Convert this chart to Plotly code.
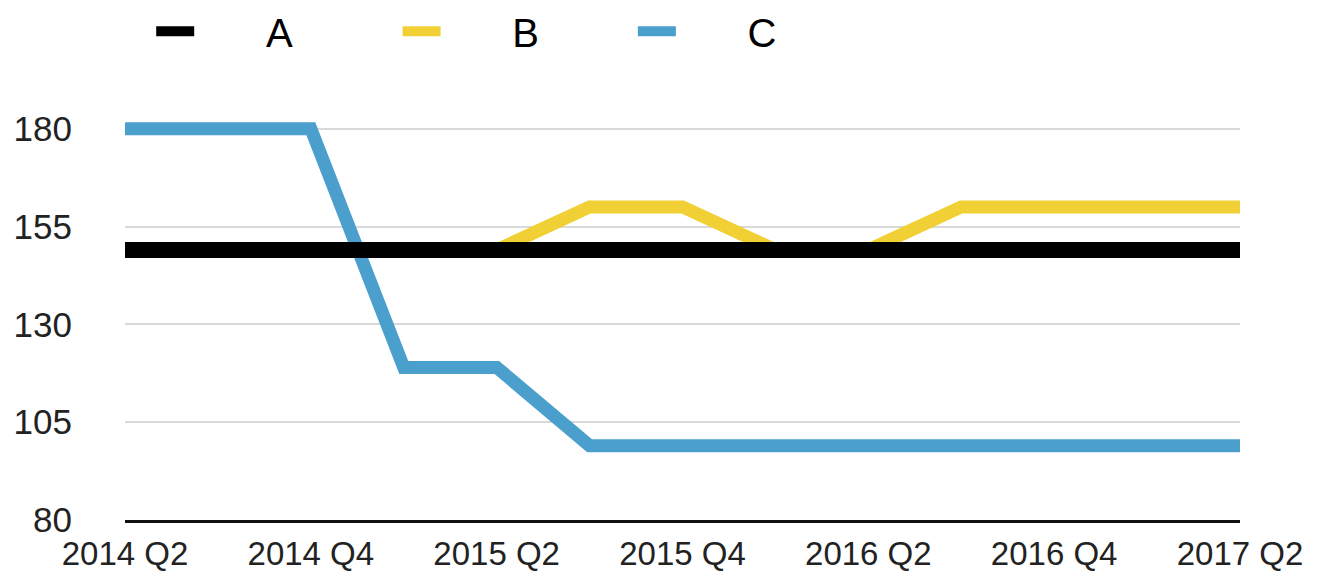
import plotly.graph_objects as go

quarters = ["2014 Q2", "2014 Q3", "2014 Q4", "2015 Q1", "2015 Q2", "2015 Q3", "2015 Q4",
            "2016 Q1", "2016 Q2", "2016 Q3", "2016 Q4", "2017 Q1", "2017 Q2"]
series_a = [149, 149, 149, 149, 149, 149, 149, 149, 149, 149, 149, 149, 149]
series_b = [149, 149, 149, 149, 149, 160, 160, 149, 149, 160, 160, 160, 160]
series_c = [180, 180, 180, 119, 119, 99, 99, 99, 99, 99, 99, 99, 99]
y_ticks = [80, 105, 130, 155, 180]
x_tick_idx = [0, 2, 4, 6, 8, 10, 12]

x = list(range(len(quarters)))
lead = "\u00a0" * 6

fig = go.Figure()
fig.add_trace(go.Scatter(x=x, y=series_c, name=lead + "C", mode="lines",
                         line=dict(color="#4A9FCD", width=13)))
fig.add_trace(go.Scatter(x=x, y=series_b, name=lead + "B" + "\u00a0" * 8, mode="lines",
                         line=dict(color="#F0D034", width=13)))
fig.add_trace(go.Scatter(x=x, y=series_a, name=lead + "A" + "\u00a0" * 9, mode="lines",
                         line=dict(color="#000000", width=16)))

fig.update_layout(
    width=1314, height=566,
    margin=dict(l=117, r=82, t=107, b=54, autoexpand=False),
    paper_bgcolor="white", plot_bgcolor="white",
    font=dict(family="Liberation Sans, Arial, sans-serif", color="#111111"),
    showlegend=True,
    legend=dict(orientation="h", x=0.0235, y=1.207, yref="paper", yanchor="middle",
                xanchor="left", traceorder="reversed",
                font=dict(size=40, color="#000000"),
                itemwidth=38,
                bgcolor="rgba(0,0,0,0)"),
    xaxis=dict(range=[0, 12], tickmode="array", tickvals=x_tick_idx,
               ticktext=[quarters[i] for i in x_tick_idx],
               showgrid=False, zeroline=False,
               showline=True, linecolor="#111111", linewidth=3,
               ticks="outside", ticklen=2, tickcolor="rgba(0,0,0,0)",
               tickfont=dict(size=33, color="#222222")),
    yaxis=dict(range=[80, 183.5], tickmode="array", tickvals=y_ticks,
               showgrid=True, gridcolor="#d9d9d9", gridwidth=2,
               zeroline=False, showline=False,
               ticks="outside", ticklen=45, tickcolor="rgba(0,0,0,0)",
               tickfont=dict(size=35, color="#222222")),
)

fig.write_html("out.html")
